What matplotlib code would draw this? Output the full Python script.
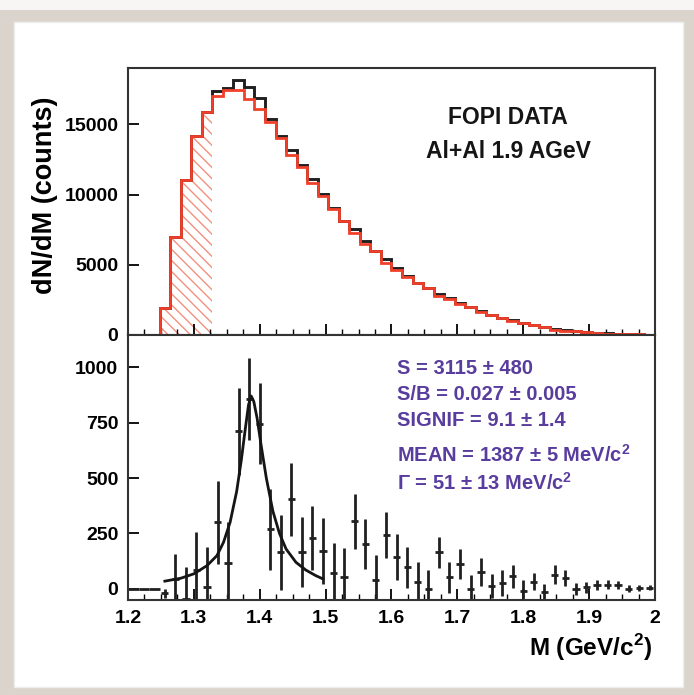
import numpy as np
import matplotlib
matplotlib.use("Agg")
import matplotlib.pyplot as plt
from matplotlib.patches import Rectangle
from matplotlib.ticker import MultipleLocator

plt.rcParams['font.family'] = ['Liberation Sans', 'DejaVu Sans']
plt.rcParams['font.weight'] = 'bold'
plt.rcParams['hatch.linewidth'] = 1.0
plt.rcParams['mathtext.fontset'] = 'custom'
plt.rcParams['mathtext.rm'] = 'Liberation Sans:bold'
plt.rcParams['mathtext.bf'] = 'Liberation Sans:bold'

# -----------------------------
# Data (16 MeV bins, 1.2 - 2.0 GeV)
# -----------------------------
m_lo = 1.2
bin_w = 0.016
edges = m_lo + bin_w * np.arange(51)
centres = edges[:-1] + bin_w / 2

data_counts = [0, 0, 0, 1900, 6950, 11050, 14160, 15870, 17350, 17550,
               18150, 17650, 16850, 15400, 14200, 13200, 12100, 11070, 10040, 9020,
               8140, 7540, 6710, 6000, 5400, 4800, 4210, 3730, 3380, 2950,
               2600, 2310, 2000, 1710, 1430, 1240, 1050, 860, 710, 570,
               450, 360, 290, 210, 150, 110, 80, 60, 40, 30]

bkg_counts = [0, 0, 0, 1900, 6950, 11050, 14160, 15870, 17050, 17430,
              17440, 16800, 16100, 15130, 14030, 12800, 11930, 10840, 9870, 8950,
              8085, 7235, 6510, 5956, 5157, 4656, 4112, 3697, 3380, 2782,
              2547, 2200, 2000, 1635, 1420, 1215, 995, 868, 677, 582,
              385, 312, 290, 202, 132, 92, 62, 61, 35, 25]

signal = [0, 0, 0, -20, 44, -45, 85, 10, 300, 115,
          710, 855, 745, 268, 165, 405, 168, 230, 172, 70,
          55, 305, 203, 42, 242, 144, 98, 33, 0, 166,
          53, 112, 0, 75, 12, 26, 56, -8, 33, -12,
          64, 48, 0, 8, 18, 18, 18, 0, 5, 5]

signal_err = [0, 0, 0, 20, 112, 146, 170, 180, 187, 185,
              195, 185, 182, 182, 170, 165, 158, 144, 148, 135,
              130, 124, 113, 110, 104, 102, 92, 87, 84, 70,
              70, 67, 62, 64, 55, 57, 53, 46, 40, 36,
              42, 36, 26, 25, 22, 20, 18, 16, 14, 12]

# fit curve
fit_m = [1.256, 1.28, 1.30, 1.32, 1.335, 1.345, 1.355, 1.365, 1.372, 1.378,
         1.383, 1.387, 1.391, 1.396, 1.402, 1.41, 1.42, 1.43, 1.44, 1.455,
         1.47, 1.485, 1.496]
fit_y = [35, 48, 68, 105, 150, 210, 300, 440, 580, 720,
         830, 870, 845, 770, 650, 500, 350, 250, 180, 120,
         85, 60, 45]

hatch_lo, hatch_hi = 3, 8   # bins of the hatched region

red = '#f0402a'
purple = '#583d9e'

# -----------------------------
# Figure
# -----------------------------
fig = plt.figure(figsize=(6.94, 6.95), dpi=100, facecolor='#dad4cd')
fig.patches.append(Rectangle((0, 1 - 10 / 695), 1, 10 / 695, transform=fig.transFigure,
                             facecolor='#f7f6f4', edgecolor='none', zorder=-2))
fig.patches.append(Rectangle((14 / 694, 1 - 687 / 695), 669 / 694, 665 / 695,
                             transform=fig.transFigure, facecolor='white',
                             edgecolor='#eeeeee', zorder=-1))

left, width = 0.1844, 0.7594
ax1 = fig.add_axes([left, 0.518, width, 0.384])
ax2 = fig.add_axes([left, 0.1367, width, 0.3813], sharex=ax1)

# top panel
ax1.stairs(data_counts, edges, color='#202020', lw=2.1, zorder=2)
ax1.stairs(bkg_counts, edges, color=red, lw=2.0, zorder=3)
ax1.stairs(bkg_counts[hatch_lo:hatch_hi], edges[hatch_lo:hatch_hi + 1], fill=True,
           facecolor='none', edgecolor='#f3907f', hatch='\\\\\\', lw=0, zorder=1)
ax1.set_ylim(0, 19000)
ax1.set_yticks([0, 5000, 10000, 15000])
fig.text(508 / 694, 1 - 118 / 695, 'FOPI DATA', ha='center', va='center',
         fontsize=16.5, fontweight='bold', color='#151515')
fig.text(508 / 694, 1 - 151 / 695, 'Al+Al 1.9 AGeV', ha='center', va='center',
         fontsize=16.5, fontweight='bold', color='#151515')
plt.setp(ax1.get_xticklabels(), visible=False)

# bottom panel
ax2.errorbar(centres[:3], signal[:3], xerr=bin_w / 2, fmt='none',
             ecolor='#202020', elinewidth=2.0)
ax2.errorbar(centres[3:], signal[3:], yerr=signal_err[3:], xerr=0.0055, fmt='none',
             ecolor='#202020', elinewidth=2.0)
ax2.plot(fit_m, fit_y, color='#151515', lw=2.0)
ax2.set_ylim(-50, 1145)
ax2.set_yticks([0, 250, 500, 750, 1000])
ax2.set_xlim(1.2, 2.0)
ax2.set_xticks([1.2, 1.3, 1.4, 1.5, 1.6, 1.7, 1.8, 1.9, 2.0])
ax2.set_xticklabels(['1.2', '1.3', '1.4', '1.5', '1.6', '1.7', '1.8', '1.9', '2'])
ax2.xaxis.set_minor_locator(MultipleLocator(0.025))

stats = [('S = 3115 ± 480', 369), ('S/B = 0.027 ± 0.005', 395),
         ('SIGNIF = 9.1 ± 1.4', 421), (r'MEAN = 1387 ± 5 MeV/c$^{2}$', 455),
         (r'Γ = 51 ± 13 MeV/c$^{2}$', 483)]
for txt, ypix in stats:
    fig.text(397 / 694, 1 - ypix / 695, txt, ha='left', va='center',
             fontsize=14.5, fontweight='bold', color=purple)

for ax in (ax1, ax2):
    for s in ax.spines.values():
        s.set_linewidth(1.5)
        s.set_color('#333333')
    ax.tick_params(which='major', direction='in', length=8, width=1.3,
                   labelsize=14, pad=7, top=False, right=False)
    ax.tick_params(which='minor', direction='in', length=4, width=1.0,
                   top=False, right=False, left=False)
    for lab in ax.get_yticklabels() + ax.get_xticklabels():
        lab.set_fontweight('bold')

fig.text(45 / 694, 1 - 195 / 695, 'dN/dM (counts)', rotation=90, ha='center',
         va='center', fontsize=19.5, fontweight='bold')
fig.text(652 / 694, 1 - 648 / 695, r'M (GeV/c$^{2}$)', ha='right', va='center',
         fontsize=17.5, fontweight='bold')

fig.savefig('out.png', dpi=100, facecolor=fig.get_facecolor())
